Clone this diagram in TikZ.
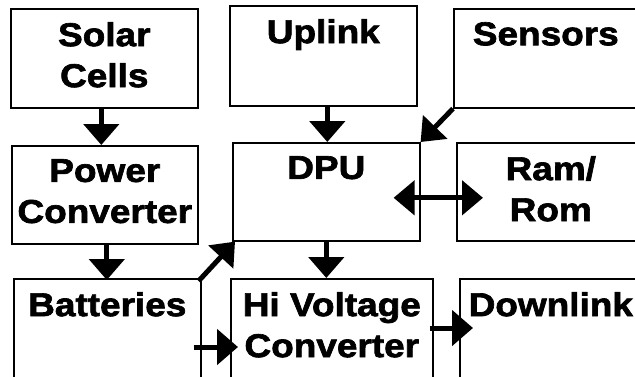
\documentclass[tikz,border=0pt]{standalone}
\usepackage{fontspec}
\setmainfont{Liberation Sans}[FakeStretch=1.12,BoldFeatures={FakeBold=2}]
\usetikzlibrary{arrows.meta,calc}

\begin{document}
\begin{tikzpicture}[x=1pt,y=-1pt,
  unit/.style={draw,line width=1.6pt,anchor=north west,inner sep=0pt},
  caption/.style={anchor=north,align=center,inner sep=0pt,font=\bfseries\fontsize{33}{41}\selectfont},
  fat/.style={line width=5pt,-{Triangle[width=35pt,length=21pt]}},
  fatd/.style={line width=5pt,-{Triangle[width=33pt,length=21pt]}},
  fattwo/.style={line width=5pt,{Triangle[width=34pt,length=21pt]}-{Triangle[width=34pt,length=21pt]}}]
  \useasboundingbox (0,0) rectangle (635,376);
  % boxes: name/left/top/width/height/text
  \foreach \n/\x/\y/\w/\h/\lbl in {solar/10/8/187/99/{Solar\\Cells},
      uplink/229/5/187/100/{Uplink}, sensors/453/8/184/99/{Sensors},
      power/11/145/186/98/{Power\\Converter}, dpu/232/142/187/98/{DPU},
      ram/456/142/188/98/{Ram/\\Rom}, batt/13/278/187/110/{Batteries},
      hv/230/278/202/110/{Hi Voltage\\Converter}, down/459/278/182/110/{Downlink}}{
    \node[unit,minimum width=\w pt,minimum height=\h pt] (\n) at (\x,\y) {};
    \node[caption,yshift=-14pt] (\n-txt) at (\n.north) {\lbl};
  }
  % links
  \draw[fat] ([xshift=-3pt]solar.south) -- ([xshift=-3pt]solar.south |- power.north);
  \draw[fat] ([xshift=2pt]power.south) -- ([xshift=2pt,yshift=-2pt]power.south |- batt.north);
  \draw[fat] ([xshift=4pt]uplink.south) -- ([xshift=4pt]uplink.south |- dpu.north);
  \draw[fatd] (sensors.south west) -- (dpu.north east);
  \draw[fattwo] ($(dpu.east)+(-27,6)$) -- ($(ram.west)+(27,6)$);
  \draw[fat] (dpu.south) -- (dpu.south |- hv.north);
  \draw[fatd] ($(batt.north east)+(-3,3)$) -- ($(dpu.south west)+(3,0)$);
  \draw[fat] ($(batt.north east)+(-8,69)$) -- ($(hv.north west)+(8,69)$);
  \draw[fat] ($(hv.north east)+(-4,50)$) -- ($(down.north west)+(14,50)$);
\end{tikzpicture}
\end{document}
